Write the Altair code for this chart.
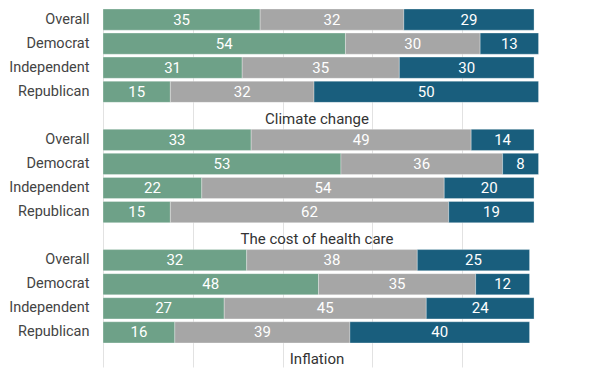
import altair as alt
import pandas as pd

# Groups are labelled below each block of bars (as in the picture)
groups = ["Climate change", "The cost of health care", "Inflation"]
parties = ["Overall", "Democrat", "Independent", "Republican"]
responses = ["Green", "Gray", "Blue"]
colors = ["#6ea188", "#a6a6a6", "#195e7d"]

green_vals = [[35, 54, 31, 15], [33, 53, 22, 15], [32, 48, 27, 16]]
gray_vals = [[32, 30, 35, 32], [49, 36, 54, 62], [38, 35, 45, 39]]
blue_vals = [[29, 13, 30, 50], [14, 8, 20, 19], [25, 12, 24, 40]]

rows = []
domain = []
titles = []
for gi, g in enumerate(groups):
    for pi, p in enumerate(parties):
        key = f"{gi}|{p}"
        domain.append(key)
        for ri, (r, vals) in enumerate(zip(responses, [green_vals, gray_vals, blue_vals])):
            rows.append({"row": key, "party": p, "response": r, "order": ri, "value": vals[gi][pi]})
    tkey = f"{gi}|_title"
    domain.append(tkey)
    titles.append({"row": tkey, "title": g})

df = pd.DataFrame(rows)
tdf = pd.DataFrame(titles)

W, H = 449, 358
FONT = "Roboto"

yenc = alt.Y(
    "row:N",
    scale=alt.Scale(domain=domain, paddingInner=0.12, paddingOuter=0.0),
    axis=alt.Axis(
        title=None, ticks=False, domain=False, grid=False,
        labelExpr="indexof(datum.label, '_title') >= 0 ? '' : split(datum.label, '|')[1]",
        labelFontSize=14.5, labelColor="#444444", labelFont=FONT,
        labelPadding=14, minExtent=94, maxExtent=94,
    ),
)

base = alt.Chart(df).transform_stack(
    stack="value", as_=["x0", "x1"], groupby=["row"], sort=[alt.SortField("order")]
).transform_calculate(mid="(datum.x0 + datum.x1) / 2")

bars = base.mark_bar(stroke="white", strokeWidth=0.6, strokeOpacity=0.5).encode(
    x=alt.X(
        "x0:Q",
        scale=alt.Scale(domain=[0, 100], nice=False),
        axis=alt.Axis(
            title=None, labels=False, ticks=False, domain=False, grid=True,
            values=[0, 20, 40, 60, 80, 100], gridColor="#e2e2e2", gridWidth=1,
        ),
    ),
    x2="x1:Q",
    y=yenc,
    color=alt.Color("response:N", scale=alt.Scale(domain=responses, range=colors), legend=None),
)

labels = base.mark_text(color="white", fontSize=15, font=FONT).encode(
    x="mid:Q",
    y=alt.Y("row:N"),
    text="value:Q",
)

title_text = alt.Chart(tdf).mark_text(fontSize=15, font=FONT, color="#333333", dy=3).encode(
    x=alt.value(214),
    y=alt.Y("row:N"),
    text="title:N",
)

chart = alt.layer(bars, labels, title_text).properties(
    width=W, height=H, padding={"left": 0, "top": 0, "right": 0, "bottom": 0}
).configure_view(strokeWidth=0)

chart.save("out.html", embed_options={"renderer": "svg", "actions": False})
